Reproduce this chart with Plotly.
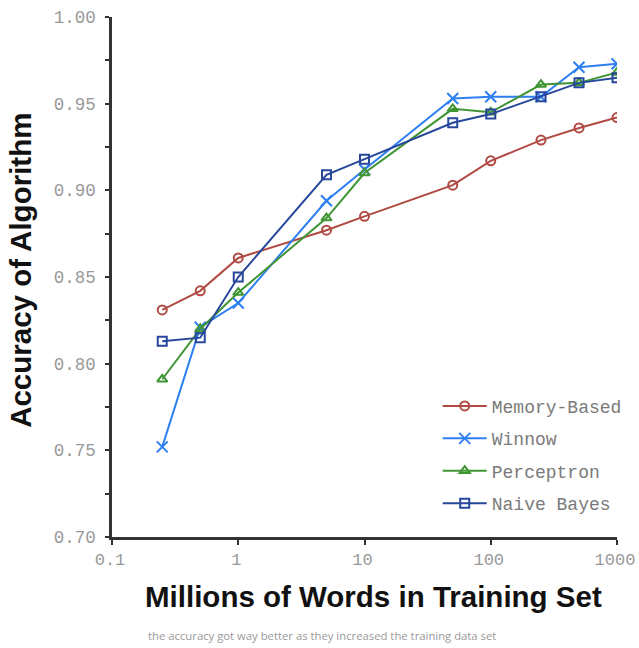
import plotly.graph_objects as go

words_millions = [0.25, 0.5, 1, 5, 10, 50, 100, 250, 500, 1000]
memory_based = [0.831, 0.842, 0.861, 0.877, 0.885, 0.903, 0.917, 0.929, 0.936, 0.942]
winnow = [0.752, 0.821, 0.835, 0.894, 0.912, 0.953, 0.954, 0.954, 0.971, 0.973]
perceptron = [0.791, 0.820, 0.841, 0.884, 0.910, 0.947, 0.945, 0.961, 0.962, 0.968]
naive_bayes = [0.813, 0.815, 0.850, 0.909, 0.918, 0.939, 0.944, 0.954, 0.962, 0.965]

series_names = ["Memory-Based", "Winnow", "Perceptron", "Naive Bayes"]
series_values = [memory_based, winnow, perceptron, naive_bayes]
series_colors = ["#b04a42", "#2d7ff2", "#3f9433", "#27479c"]
series_symbols = ["circle-open", "x-thin-open", "triangle-up-open", "square-open"]

x_tickvals = [0.1, 1, 10, 100, 1000]
x_ticktext = ["0.1", "1", "10", "100", "1000"]
y_tickvals = [0.70, 0.75, 0.80, 0.85, 0.90, 0.95, 1.00]
y_ticktext = ["0.70", "0.75", "0.80", "0.85", "0.90", "0.95", "1.00"]

fig = go.Figure()
for name, vals, color, sym in zip(series_names, series_values, series_colors, series_symbols):
    fig.add_trace(go.Scatter(
        x=words_millions, y=vals, name=name, mode="lines+markers",
        legendgroup=name,
        line=dict(color=color, width=2),
        marker=dict(symbol=sym, size=9 if sym != "x-thin-open" else 11,
                    color=color, line=dict(color=color, width=2)),
    ))

mono = "Liberation Mono, Courier New, monospace"
title_font = dict(family="Liberation Sans, Arial, sans-serif", size=29.5, color="#111111")
fig.update_layout(
    width=639, height=648,
    margin=dict(l=112, r=19, t=17, b=111),
    paper_bgcolor="white", plot_bgcolor="white",
    showlegend=True,
    legend=dict(x=0.645, y=0.287, xanchor="left", yanchor="top",
                font=dict(family=mono, size=18, color="#7a7a7a"),
                itemwidth=44,
                tracegroupgap=6, bgcolor="rgba(0,0,0,0)"),
    xaxis=dict(type="log", range=[-1, 3], tickvals=x_tickvals, ticktext=x_ticktext,
               automargin=False, ticklabeloverflow="allow", ticklabelshift=-2,
               showline=True, linecolor="#333333", linewidth=2.5,
               ticks="outside", ticklen=5, tickwidth=2, tickcolor="#333333",
               showgrid=False, zeroline=False,
               tickfont=dict(family=mono, size=17, color="#999999")),
    yaxis=dict(range=[0.70, 1.00], tickvals=y_tickvals, ticktext=y_ticktext,
               automargin=False, ticklabelstandoff=6,
               showline=True, linecolor="#333333", linewidth=2.5,
               ticks="outside", ticklen=4, tickwidth=2, tickcolor="#333333",
               minor=dict(tickvals=[0.725, 0.775, 0.825, 0.875, 0.925, 0.975],
                          ticks="outside", ticklen=4, tickwidth=2, tickcolor="#333333"),
               showgrid=False, zeroline=False,
               tickfont=dict(family=mono, size=17.5, color="#999999")),
    annotations=[
        dict(text="<b>Millions of Words in Training Set</b>", xref="paper", yref="paper",
             x=0.518, y=-0.115, xanchor="center", yanchor="middle", showarrow=False,
             font=title_font),
        dict(text="<b>Accuracy of Algorithm</b>", xref="paper", yref="paper",
             x=-0.18, y=0.512, xanchor="center", yanchor="middle", showarrow=False,
             textangle=-90, font=title_font),
        dict(text="the accuracy got way better as they increased the training data set",
             xref="paper", yref="paper", x=0.415, y=-0.19, xanchor="center", yanchor="middle",
             showarrow=False,
             font=dict(family="Open Sans, sans-serif", size=11.3, color="#999999")),
    ],
)

fig.write_html("out.html", config={"displayModeBar": False},
               post_script="document.body.style.margin='0';document.body.style.overflow='hidden';")
